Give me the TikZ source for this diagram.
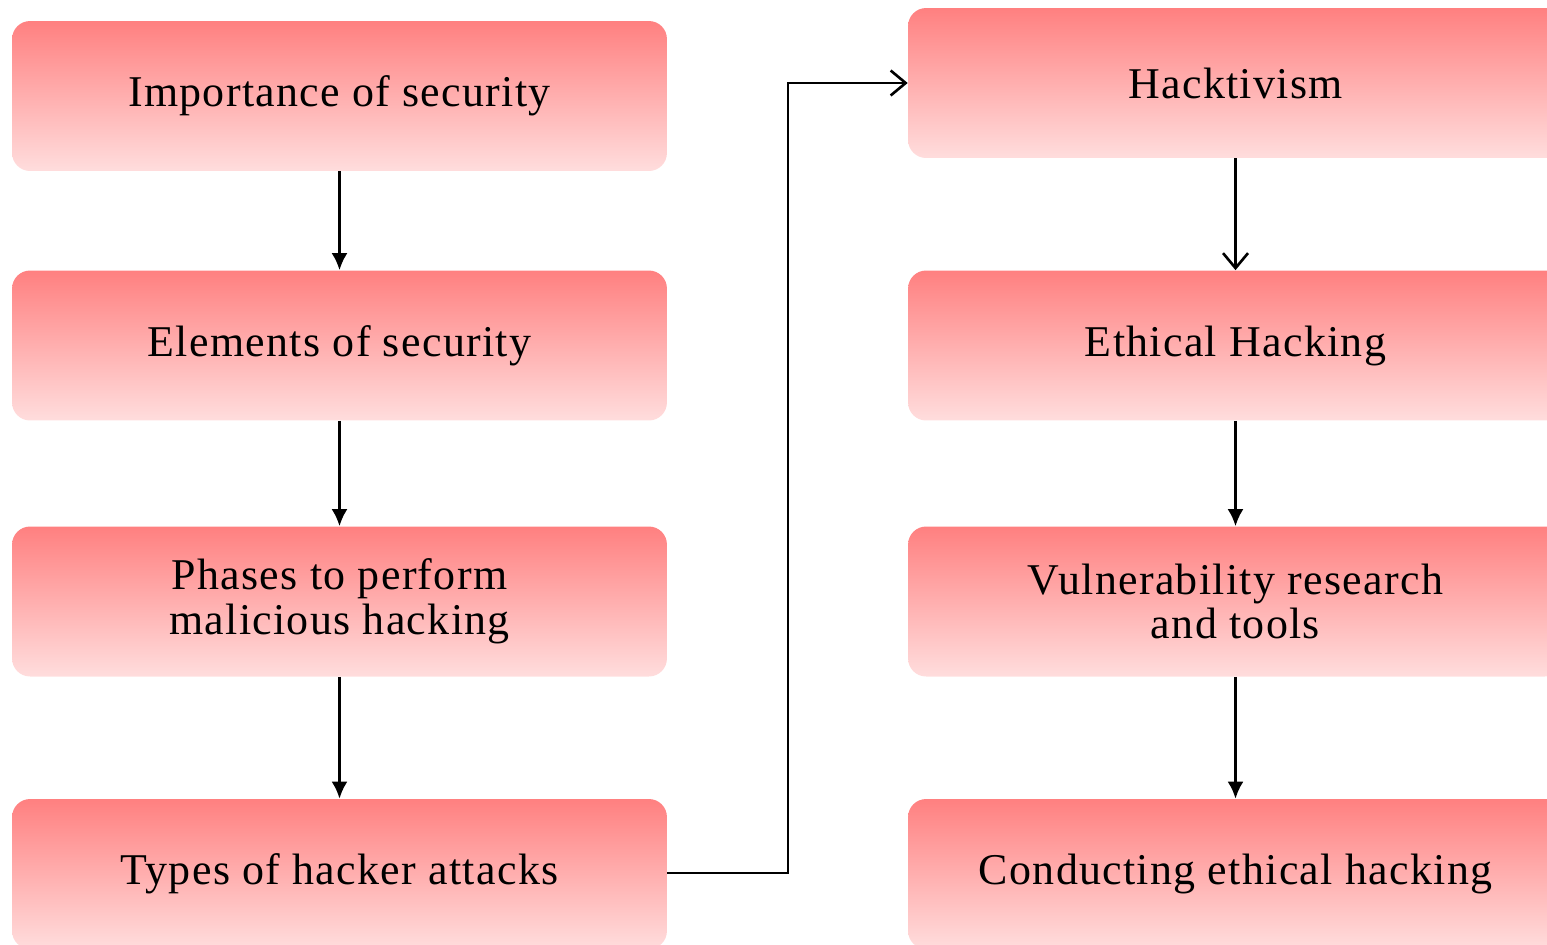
\documentclass[tikz,border=0pt]{standalone}
\usepackage{fontspec}
\setmainfont[LetterSpace=3]{Liberation Serif}
\usepackage{xcolor}
\usetikzlibrary{arrows.meta}
\definecolor{boxtop}{RGB}{255,128,128}
\definecolor{boxbottom}{RGB}{255,221,221}
\tikzset{
  topic/.style={rectangle, rounded corners=0.36cm, top color=boxtop, bottom color=boxbottom,
    minimum width=13.1cm, minimum height=3cm, align=center, font=\fontsize{25}{25.5}\selectfont},
  flow/.style={line width=1.5pt, -{Latex[length=0.34cm,width=0.32cm]}},
  openflow/.style={line width=1.5pt, -{Straight Barb[length=0.3cm,width=0.5cm]}}
}

\begin{document}
\begin{tikzpicture}[x=0.02cm, y=-0.02cm]
  \useasboundingbox (0,0) rectangle (1547,944);
  \clip (0,0) rectangle (1547,944);
  % left column
  \node [topic] (importance) at (339.5, 96) {Importance of security};
  \node [topic] (elements) at (339.5, 345.5) {Elements of security};
  \node [topic] (phases) at (339.5, 601.5) {Phases to perform\\malicious hacking};
  \node [topic] (types) at (339.5, 874) {Types of hacker attacks};
  % right column
  \node [topic] (hacktivism) at (1235.5, 83) {Hacktivism};
  \node [topic] (ethical) at (1235.5, 345.5) {Ethical Hacking};
  \node [topic] (research) at (1235.5, 601.5) {Vulnerability research\\and tools};
  \node [topic] (conducting) at (1235.5, 874) {Conducting ethical hacking};
  \coordinate (turn) at (788, 873);

  \draw [flow] (importance) to (elements);
  \draw [flow] (elements) to (phases);
  \draw [flow] (phases) to (types);
  \draw [openflow] (types.east |- turn) -- (turn) |- (hacktivism.west);
  \draw [openflow] (hacktivism) to (ethical);
  \draw [flow] (ethical) to (research);
  \draw [flow] (research) to (conducting);
\end{tikzpicture}
\end{document}
